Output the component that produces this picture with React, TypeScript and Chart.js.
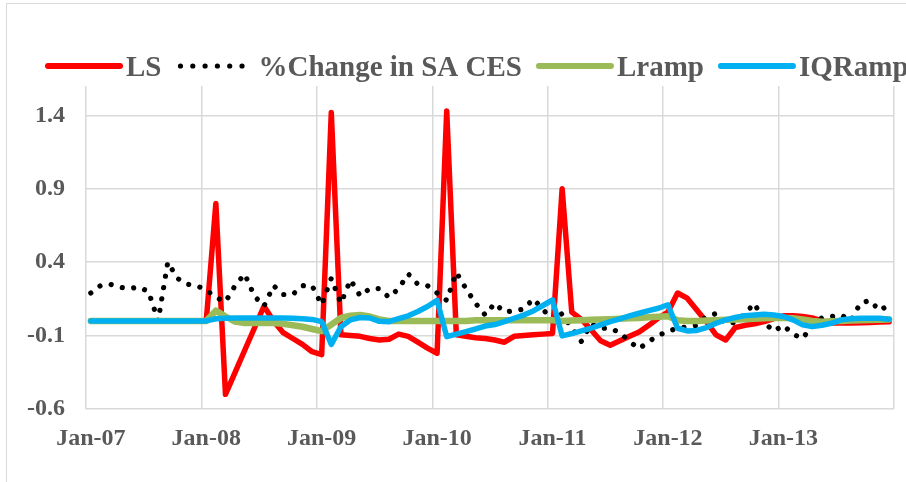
import React, { useEffect, useRef } from "react";
import { Chart, registerables } from "chart.js";

Chart.register(...registerables);

// ---- data ----
const monthNames = ["Jan", "Feb", "Mar", "Apr", "May", "Jun", "Jul", "Aug", "Sep", "Oct", "Nov", "Dec"];
const years = ["07", "08", "09", "10", "11", "12", "13"];
const categories: string[] = years.flatMap((y) => monthNames.map((m) => `${m}-${y}`));

const yTickValues = [-0.6, -0.1, 0.4, 0.9, 1.4];

const lsValues = [
  0, 0, 0, 0, 0, 0, 0, 0, 0, 0, 0, 0,
  0, 0.8, -0.5, -0.35, -0.2, -0.05, 0.1, 0.0, -0.08, -0.12, -0.16, -0.21,
  -0.23, 1.42, -0.095, -0.1, -0.105, -0.12, -0.13, -0.125, -0.09, -0.105, -0.145, -0.185,
  -0.22, 1.43, -0.095, -0.105, -0.115, -0.12, -0.13, -0.145, -0.105, -0.1, -0.095, -0.09,
  -0.085, 0.9, 0.06, 0.01, -0.06, -0.135, -0.165, -0.135, -0.105, -0.075, -0.03, 0.02,
  0.06, 0.19, 0.155, 0.075, -0.005, -0.095, -0.13, -0.045, -0.03, -0.02, -0.005, 0.015,
  0.035, 0.035, 0.03, 0.02, 0.0, -0.015, -0.015, -0.015, -0.012, -0.01, -0.008, -0.005,
];

const cesValues = [
  0.19, 0.24, 0.25, 0.23, 0.22, 0.23, 0.2, 0.0, 0.4, 0.29, 0.25, 0.24,
  0.21, 0.16, 0.13, 0.24, 0.32, 0.17, 0.1, 0.24, 0.18, 0.18, 0.24, 0.24,
  0.11, 0.29, 0.12, 0.28, 0.17, 0.22, 0.22, 0.16, 0.22, 0.32, 0.25, 0.24,
  0.19, 0.14, 0.33, 0.22, 0.12, 0.04, 0.12, 0.06, 0.07, 0.08, 0.15, 0.08,
  0.0, 0.05, -0.05, -0.14, -0.02, -0.05, -0.05, -0.08, -0.14, -0.19, -0.14, -0.1,
  -0.07, -0.05, -0.04, -0.03, 0.03, 0.05, -0.02, -0.01, 0.05, 0.12, -0.01, -0.07,
  -0.03, -0.09, -0.12, -0.03, 0.02, 0.03, 0.04, 0.0, 0.12, 0.14, 0.07, 0.11,
];

const lrampValues = [
  0, 0, 0, 0, 0, 0, 0, 0, 0, 0, 0, 0,
  0, 0.07, 0.03, -0.005, -0.015, -0.015, -0.015, -0.015, -0.02, -0.03, -0.04, -0.055,
  -0.07, -0.025, 0.02, 0.035, 0.04, 0.03, 0.01, 0.0, 0.0, 0.0, 0.0, 0.0,
  0.0, 0.0, 0.0, 0.0, 0.005, 0.005, 0.005, 0.005, 0.005, 0.005, 0.005, 0.005,
  0.005, 0.0, 0.002, 0.005, 0.008, 0.01, 0.012, 0.015, 0.018, 0.02, 0.025, 0.028,
  0.032, 0.005, 0.0, 0.0, 0.002, 0.005, 0.008, 0.01, 0.012, 0.015, 0.018, 0.02,
  0.02, 0.018, 0.01, 0.0, -0.005, -0.003, 0.0, 0.003, 0.005, 0.007, 0.008, 0.01,
];

const iqrampValues = [
  0, 0, 0, 0, 0, 0, 0, 0, 0, 0, 0, 0,
  0, 0.015, 0.018, 0.02, 0.02, 0.02, 0.02, 0.02, 0.02, 0.018, 0.015, 0.01,
  -0.005, -0.16, -0.04, 0.007, 0.023, 0.02, -0.003, -0.005, 0.015, 0.035, 0.064, 0.098,
  0.14, -0.107, -0.09, -0.073, -0.055, -0.035, -0.025, -0.005, 0.018, 0.04, 0.068, 0.105,
  0.143, -0.102, -0.086, -0.068, -0.05, -0.027, -0.005, 0.014, 0.034, 0.052, 0.07, 0.086,
  0.11, -0.05, -0.068, -0.065, -0.045, -0.016, 0.007, 0.023, 0.036, 0.04, 0.045, 0.04,
  0.03, 0.007, -0.027, -0.039, -0.03, -0.016, 0.007, 0.014, 0.018, 0.018, 0.018, 0.011,
];

const seriesNames = ["LS", "%Change in SA CES", "Lramp", "IQRamp"];
const seriesColors = ["#ff0000", "#000000", "#9bbb59", "#00b0f0"];

const TEXT_COLOR = "#595959";
const GRID_COLOR = "#d9d9d9";
const FONT_FAMILY = '"Liberation Serif", "Times New Roman", serif';

const legendPlugin = {
  id: "customLegend",
  afterDraw(chart: any) {
    const ctx = chart.ctx as CanvasRenderingContext2D;
    ctx.save();
    ctx.font = `bold 29px ${FONT_FAMILY}`;
    ctx.textBaseline = "alphabetic";
    ctx.textAlign = "left";
    let x = 48;
    const lineY = 66;
    const textY = 76;
    const lineLen = 72;
    seriesNames.forEach((name, i) => {
      ctx.beginPath();
      ctx.lineCap = "round";
      ctx.strokeStyle = seriesColors[i];
      if (i === 1) {
        ctx.lineWidth = 5.2;
        ctx.setLineDash([0.01, 12.3]);
        ctx.moveTo(x + 2, lineY);
        ctx.lineTo(x + lineLen - 8, lineY);
      } else {
        ctx.lineWidth = 6;
        ctx.setLineDash([]);
        ctx.moveTo(x, lineY);
        ctx.lineTo(x + lineLen, lineY);
      }
      ctx.stroke();
      ctx.setLineDash([]);
      const tx = x + lineLen + (i === 1 ? 8 : 6);
      ctx.fillStyle = TEXT_COLOR;
      ctx.fillText(name, tx, textY);
      x = tx + ctx.measureText(name).width + 17;
    });
    ctx.restore();
  },
};

export default function App() {
  const canvasRef = useRef<HTMLCanvasElement | null>(null);

  useEffect(() => {
    const canvas = canvasRef.current;
    if (!canvas) return;
    const datasetValues = [lsValues, cesValues, lrampValues, iqrampValues];
    const chart = new Chart(canvas, {
      type: "line",
      data: {
        labels: categories,
        datasets: datasetValues.map((vals, i) => ({
          label: seriesNames[i],
          data: vals,
          borderColor: seriesColors[i],
          backgroundColor: seriesColors[i],
          borderWidth: i === 1 ? 5.2 : i === 2 ? 6.5 : 5.5,
          borderDash: i === 1 ? [0.01, 11.5] : [],
          borderCapStyle: "round",
          borderJoinStyle: "round",
          pointRadius: 0,
          pointHoverRadius: 0,
          tension: 0,
          fill: false,
          order: 4 - i,
        })),
      },
      options: {
        responsive: false,
        animation: false,
        devicePixelRatio: 1,
        layout: { padding: { left: 0, right: 12, top: 86, bottom: 0 } },
        plugins: {
          legend: { display: false },
          tooltip: { enabled: false },
        },
        scales: {
          x: {
            type: "category",
            offset: true,
            grid: {
              offset: true,
              drawTicks: false,
              lineWidth: 1.5,
              color: (ctx: any) =>
                ctx.index === undefined || ctx.index % 12 === 0 ? GRID_COLOR : "rgba(0,0,0,0)",
            },
            border: { display: false },
            ticks: {
              autoSkip: false,
              maxRotation: 0,
              minRotation: 0,
              padding: 15,
              color: TEXT_COLOR,
              font: { family: FONT_FAMILY, size: 24, weight: "bold" },
              callback: (_v: any, idx: number) => (idx % 12 === 0 ? categories[idx] : ""),
            },
            afterFit: (scale: any) => {
              scale.height = 73;
            },
          },
          y: {
            min: -0.6,
            max: 1.6,
            afterBuildTicks: (scale: any) => {
              scale.ticks = yTickValues.map((v) => ({ value: v }));
            },
            grid: { drawTicks: false, lineWidth: 1.5, color: GRID_COLOR },
            border: { display: false },
            ticks: {
              padding: 21,
              color: TEXT_COLOR,
              font: { family: FONT_FAMILY, size: 24, weight: "bold" },
              callback: (v: any) => String(Math.round(Number(v) * 10) / 10),
            },
            afterFit: (scale: any) => {
              scale.width = 86;
            },
          },
        },
      },
      plugins: [legendPlugin],
    });
    return () => chart.destroy();
  }, []);

  return (
    <div
      style={{
        position: "fixed",
        left: 0,
        top: 0,
        width: 906,
        height: 482,
        background: "#ffffff",
        overflow: "hidden",
      }}
    >
      <div
        style={{
          position: "absolute",
          left: 6,
          top: 3,
          width: 1000,
          height: 600,
          border: `1px solid ${GRID_COLOR}`,
          boxSizing: "border-box",
        }}
      />
      <canvas
        ref={canvasRef}
        width={906}
        height={482}
        style={{ position: "absolute", left: 0, top: 0 }}
      />
    </div>
  );
}
